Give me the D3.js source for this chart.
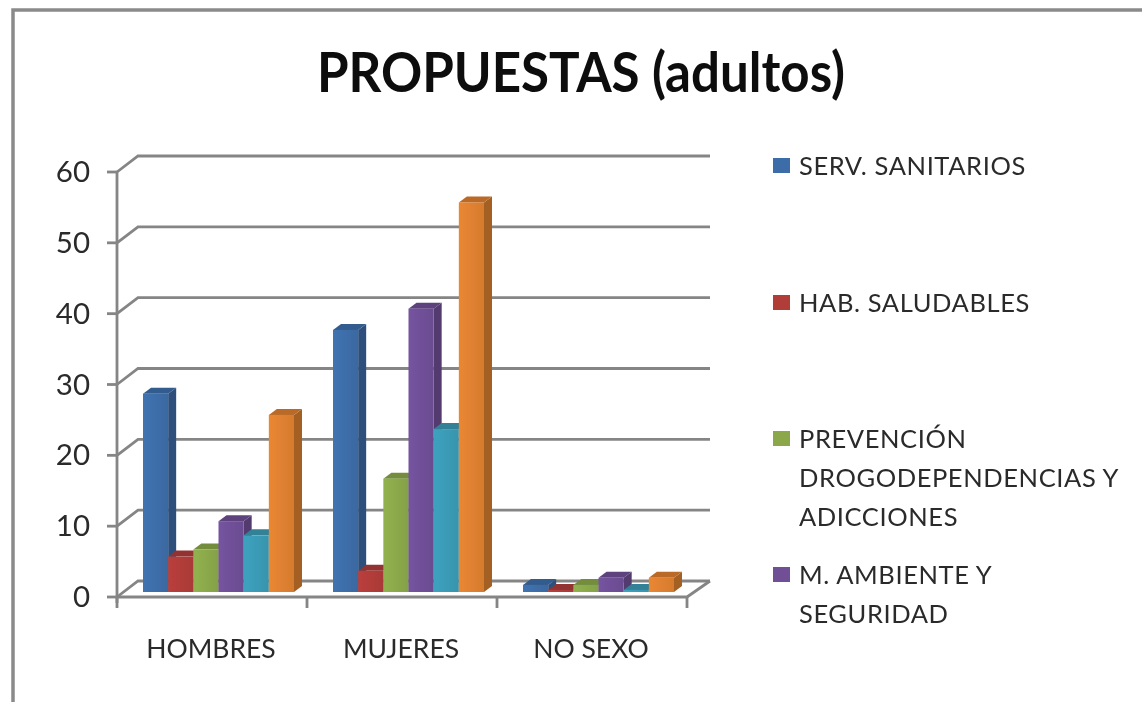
<!DOCTYPE html>
<html><head><meta charset="utf-8">
<style>html,body{margin:0;padding:0;background:#fff;overflow:hidden}svg{display:block}
text{font-family:Lato,"Open Sans",sans-serif;fill:#2b2b2b}</style>
<script src="https://cdn.jsdelivr.net/npm/d3@7"></script></head><body>
<svg id="c" width="1142" height="702"></svg>
<script>
const categories = ["HOMBRES","MUJERES","NO SEXO"];
const seriesColors = ["#3d6da8","#b03c39","#8aa84a","#6f4f97","#3a9ab5","#de8030"];
const hombres = [28,5,6,10,8,25];
const mujeres = [37,3,16,40,23,55];
const noSexo = [1,0.3,1,2,0.3,2];
const yTicks = [0,10,20,30,40,50,60];
const legendEntries = [
  {lines:["SERV. SANITARIOS"], color:0},
  {lines:["HAB. SALUDABLES"], color:1},
  {lines:["PREVENCIÓN","DROGODEPENDENCIAS Y","ADICCIONES"], color:2},
  {lines:["M. AMBIENTE Y","SEGURIDAD"], color:3}
];
const legendY = [166,303,439,575];
const title = "PROPUESTAS (adultos)";
const table = [hombres,mujeres,noSexo];

const svg = d3.select("#c");
const defs = svg.append("defs");
defs.append("filter").attr("id","soft").attr("filterUnits","userSpaceOnUse")
  .attr("x",0).attr("y",0).attr("width",1142).attr("height",702)
  .append("feGaussianBlur").attr("stdDeviation",0.55);
const root = svg.append("g").attr("filter","url(#soft)");
root.append("rect").attr("width",1142).attr("height",702).attr("fill","#fff");

const grey = "#858585";
const y = d3.scaleLinear().domain([0,60]).range([597,172]);
const x = d3.scaleBand().domain(categories).range([117,687]);
const wallDX = 21, wallDY = -16, baseDY = -5, depthX = 8, depthY = -6;
const series = d3.scaleBand().domain(d3.range(6)).range([26,177]);
const lw = 2.8;

// frame
root.append("path").attr("d","M13 702V10H1142").attr("fill","none").attr("stroke","#8a8a8a").attr("stroke-width",3.5);

// title
root.append("text").attr("x",581).attr("y",92).attr("text-anchor","middle")
  .attr("font-size",56).attr("font-weight",700).attr("textLength",528).attr("lengthAdjust","spacingAndGlyphs")
  .style("fill","#0c0c0c").text(title);

const g = root.append("g");
g.selectAll(".grid").data(yTicks).join("path").attr("fill","none").attr("stroke",grey).attr("stroke-width",lw)
  .attr("d",d=>`M${x.range()[0]} ${y(d)}l${wallDX} ${wallDY}H${x.range()[1]+wallDX+2}`);
g.append("path").attr("fill","none").attr("stroke",grey).attr("stroke-width",lw)
  .attr("d",`M${x.range()[0]} ${y(0)}H${x.range()[1]}l${wallDX+2} ${wallDY}`);
g.append("line").attr("x1",117).attr("x2",117).attr("y1",y(60)).attr("y2",y(0)+6).attr("stroke",grey).attr("stroke-width",lw);
g.selectAll(".yt").data(yTicks).join("line").attr("x1",107).attr("x2",117).attr("y1",d=>y(d)).attr("y2",d=>y(d)).attr("stroke",grey).attr("stroke-width",lw);
const xEdges = [x(categories[0]),x(categories[1]),x(categories[2]),x.range()[1]];
g.selectAll(".xt").data(xEdges).join("line").attr("x1",d=>d).attr("x2",d=>d).attr("y1",y(0)).attr("y2",y(0)+11).attr("stroke",grey).attr("stroke-width",lw);
g.selectAll(".yl").data(yTicks).join("text").attr("x",90).attr("y",d=>y(d)+10).attr("text-anchor","end").attr("font-size",29.5).text(d=>d);
g.selectAll(".xl").data(categories).join("text").attr("x",d=>x(d)+x.bandwidth()/2-1).attr("y",658)
  .attr("text-anchor","middle").attr("font-size",26.5).text(d=>d);

seriesColors.forEach((c,i)=>{
  const lg = defs.append("linearGradient").attr("id","b"+i);
  lg.append("stop").attr("offset",0).attr("stop-color",d3.color(c).brighter(0.15));
  lg.append("stop").attr("offset",0.6).attr("stop-color",c);
  lg.append("stop").attr("offset",1).attr("stop-color",d3.color(c).darker(0.12));
});
categories.forEach((cat,ci)=>{
  const gc = g.append("g");
  table[ci].forEach((v,si)=>{
    const left = x(cat)+series(si), w = series.bandwidth();
    const bot = y(0)+baseDY, top = y(v)+baseDY;
    const c = d3.color(seriesColors[si]);
    gc.append("path").attr("fill",c.darker(0.85)).attr("d",`M${left+w} ${bot}V${top}l${depthX} ${depthY}V${bot+depthY}Z`);
    gc.append("path").attr("fill",c.darker(0.5)).attr("d",`M${left} ${top}l${depthX} ${depthY}H${left+w+depthX}l${-depthX} ${-depthY}Z`);
    gc.append("rect").attr("x",left).attr("y",top).attr("width",w).attr("height",bot-top).attr("fill",`url(#b${si})`);
  });
});

const lg = root.append("g");
legendEntries.forEach((e,i)=>{
  lg.append("rect").attr("x",773).attr("y",legendY[i]-8).attr("width",17).attr("height",15).attr("fill",seriesColors[e.color]);
  e.lines.forEach((t,j)=>{
    lg.append("text").attr("x",799).attr("y",legendY[i]+9+j*39).attr("font-size",25.5).attr("letter-spacing",0.6).text(t);
  });
});
</script></body></html>
